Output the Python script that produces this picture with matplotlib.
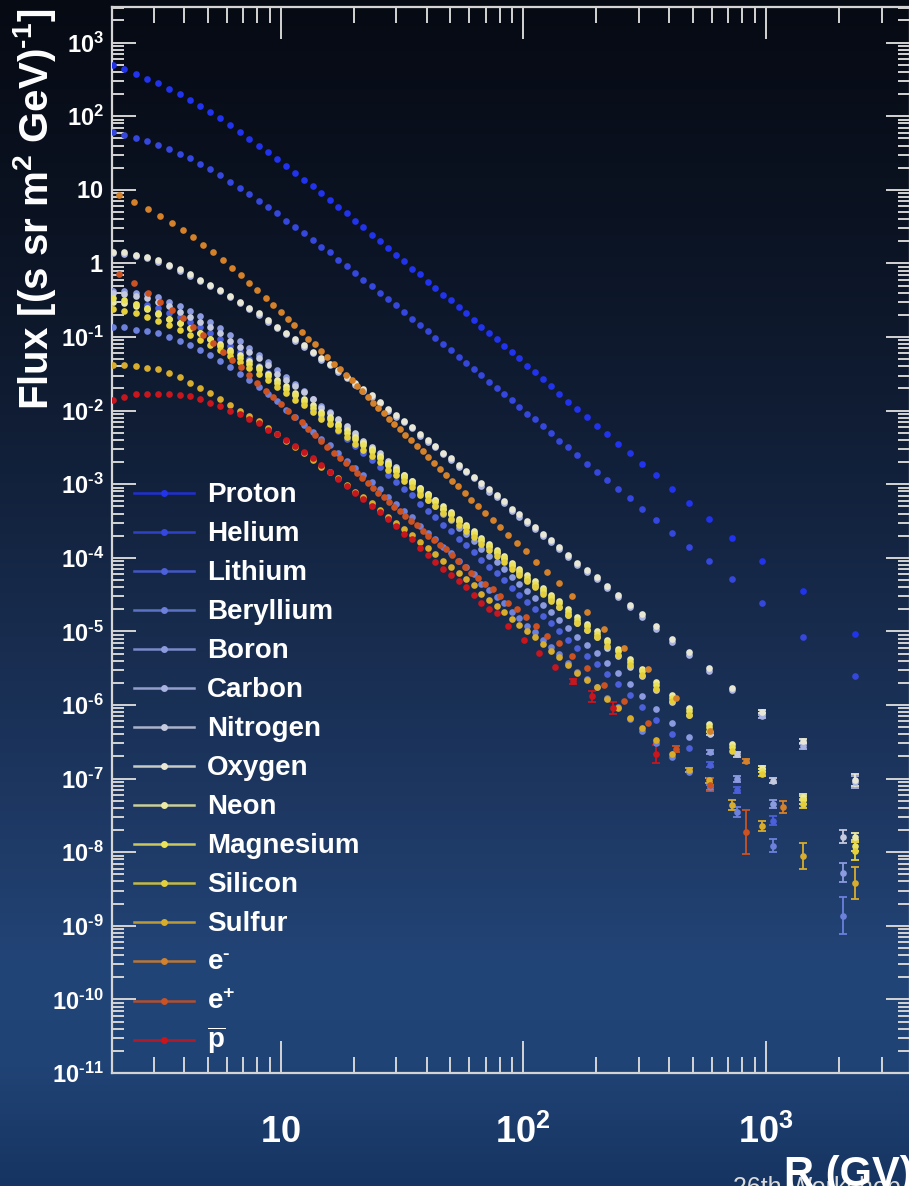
import numpy as np
import matplotlib
matplotlib.use("Agg")
import matplotlib.pyplot as plt
from matplotlib.lines import Line2D
from matplotlib.ticker import FixedLocator, FixedFormatter, LogLocator, NullFormatter

plt.rcParams['font.family'] = ['Liberation Sans', 'DejaVu Sans']
plt.rcParams['mathtext.fontset'] = 'custom'
plt.rcParams['mathtext.rm'] = 'Liberation Sans:bold'
plt.rcParams['mathtext.it'] = 'Liberation Sans:bold:italic'
plt.rcParams['mathtext.bf'] = 'Liberation Sans:bold'

# ---------------------------------------------------------------- data
# rigidity bin centres (GV)
rig_nuclei = [2.03, 2.27, 2.53, 2.82, 3.13, 3.46, 3.83, 4.22, 4.65, 5.12,
              5.63, 6.18, 6.77, 7.42, 8.11, 8.86, 9.67, 10.54, 11.49, 12.49,
              13.54, 14.69, 15.94, 17.29, 18.73, 20.28, 21.93, 23.73, 25.68, 27.73,
              29.93, 32.28, 34.78, 37.47, 40.37, 43.47, 46.77, 50.32, 54.12, 58.16,
              62.51, 67.20, 72.25, 77.65, 83.44, 89.69, 96.44, 103.9, 111.9, 120.4,
              129.9, 140.9, 153.4, 167.3, 183.3, 201.3, 221.7, 245.7, 274.5, 309.9,
              353.7, 408.8, 481.2, 581.0, 727.0, 963.8, 1426, 2324]
rig_light_top = [589, 762, 1069, 2071]
rig_lepton = [2.16, 2.49, 2.84, 3.19, 3.57, 3.95, 4.34, 4.79, 5.25, 5.76,
              6.30, 6.85, 7.42, 8.02, 8.67, 9.33, 10.0, 10.7, 11.4, 12.2,
              13.0, 13.9, 14.7, 15.6, 16.6, 17.5, 18.6, 19.6, 20.6, 21.7,
              22.9, 24.0, 25.3, 26.6, 28.0, 29.4, 31.1, 32.7, 34.5, 36.4,
              38.5, 40.6, 42.9, 45.4, 48.1, 50.9, 54.0, 57.4, 61.1, 65.1,
              69.8, 74.9, 80.2, 86.6, 94.0, 102.7, 112.6, 125.0, 140.1, 158.9,
              182.7, 215.9, 261.1, 326.1, 427.8, 587.3, 828.6, 1174]
rig_pbar_top = [86.5, 100.5, 116.2, 135.6, 160.4, 192.2, 233.8, 352.0]

# log10 of flux [(s sr m^2 GeV)^-1]
proton = [2.69, 2.64, 2.58, 2.51, 2.45, 2.37, 2.30, 2.22, 2.14, 2.06,
          1.97, 1.88, 1.78, 1.69, 1.60, 1.51, 1.42, 1.32, 1.23, 1.14,
          1.05, 0.96, 0.86, 0.77, 0.68, 0.58, 0.49, 0.39, 0.30, 0.21,
          0.12, 0.03, -0.07, -0.15, -0.25, -0.34, -0.43, -0.50, -0.59, -0.68,
          -0.77, -0.86, -0.94, -1.03, -1.12, -1.21, -1.29, -1.39, -1.48, -1.57,
          -1.67, -1.77, -1.88, -1.98, -2.09, -2.21, -2.32, -2.45, -2.58, -2.72,
          -2.88, -3.06, -3.25, -3.47, -3.73, -4.04, -4.45, -5.03]
helium = [1.78, 1.75, 1.71, 1.66, 1.61, 1.56, 1.49, 1.43, 1.35, 1.28,
          1.20, 1.11, 1.03, 0.94, 0.85, 0.77, 0.68, 0.58, 0.50, 0.41,
          0.32, 0.23, 0.15, 0.05, -0.04, -0.13, -0.22, -0.31, -0.40, -0.48,
          -0.57, -0.66, -0.75, -0.84, -0.92, -1.01, -1.10, -1.18, -1.27, -1.35,
          -1.44, -1.52, -1.61, -1.69, -1.78, -1.86, -1.95, -2.04, -2.12, -2.21,
          -2.30, -2.41, -2.50, -2.60, -2.72, -2.83, -2.94, -3.06, -3.19, -3.33,
          -3.48, -3.66, -3.85, -4.04, -4.29, -4.62, -5.07, -5.60]
lithium = [-0.53, -0.53, -0.55, -0.57, -0.61, -0.67, -0.73, -0.80, -0.87, -0.95,
           -1.03, -1.12, -1.21, -1.30, -1.39, -1.49, -1.60, -1.69, -1.79, -1.89,
           -1.99, -2.09, -2.17, -2.28, -2.38, -2.48, -2.57, -2.67, -2.77, -2.88,
           -2.97, -3.06, -3.15, -3.27, -3.36, -3.45, -3.55, -3.64, -3.74, -3.83,
           -3.92, -4.03, -4.12, -4.21, -4.30, -4.41, -4.50, -4.60, -4.69, -4.79,
           -4.89, -4.99, -5.11, -5.23, -5.33, -5.44, -5.58, -5.71, -5.87, -6.03,
           -6.20, -6.39, -6.59, -6.81, -7.15, -7.57]
beryllium = [-0.87, -0.87, -0.90, -0.92, -0.95, -1.00, -1.05, -1.11, -1.18, -1.25,
             -1.33, -1.41, -1.50, -1.58, -1.68, -1.77, -1.87, -1.99, -2.09, -2.19,
             -2.29, -2.39, -2.47, -2.58, -2.68, -2.78, -2.87, -2.97, -3.07, -3.18,
             -3.27, -3.36, -3.45, -3.57, -3.66, -3.75, -3.85, -3.94, -4.04, -4.13,
             -4.22, -4.35, -4.44, -4.53, -4.62, -4.73, -4.82, -4.92, -5.01, -5.11,
             -5.21, -5.31, -5.43, -5.55, -5.65, -5.76, -5.90, -6.03, -6.19, -6.35,
             -6.52, -6.71, -6.91, -7.12, -7.45, -7.91, -8.86]
boron = [-0.38, -0.38, -0.40, -0.42, -0.46, -0.52, -0.58, -0.65, -0.72, -0.80,
         -0.88, -0.97, -1.06, -1.15, -1.24, -1.34, -1.45, -1.54, -1.64, -1.74,
         -1.84, -1.94, -2.02, -2.13, -2.23, -2.33, -2.42, -2.52, -2.62, -2.73,
         -2.82, -2.91, -3.00, -3.12, -3.21, -3.30, -3.40, -3.49, -3.59, -3.68,
         -3.77, -3.88, -3.97, -4.06, -4.15, -4.26, -4.35, -4.45, -4.54, -4.64,
         -4.74, -4.84, -4.96, -5.08, -5.18, -5.29, -5.43, -5.56, -5.72, -5.88,
         -6.05, -6.24, -6.44, -6.64, -7.00, -7.35, -8.28]
carbon = [0.14, 0.13, 0.10, 0.07, 0.02, -0.04, -0.10, -0.17, -0.24, -0.31,
          -0.38, -0.46, -0.54, -0.62, -0.70, -0.79, -0.88, -0.96, -1.05, -1.13,
          -1.22, -1.31, -1.38, -1.47, -1.56, -1.65, -1.73, -1.81, -1.90, -2.00,
          -2.08, -2.16, -2.24, -2.34, -2.42, -2.50, -2.59, -2.67, -2.76, -2.84,
          -2.92, -3.02, -3.10, -3.18, -3.26, -3.36, -3.44, -3.53, -3.61, -3.70,
          -3.79, -3.88, -3.99, -4.10, -4.19, -4.29, -4.41, -4.53, -4.67, -4.81,
          -4.97, -5.14, -5.32, -5.54, -5.80, -6.15, -6.56, -7.05]
nitrogen = [-0.40, -0.41, -0.44, -0.47, -0.52, -0.58, -0.66, -0.73, -0.80, -0.87,
            -0.94, -1.05, -1.13, -1.21, -1.29, -1.38, -1.50, -1.58, -1.67, -1.75,
            -1.84, -1.96, -2.03, -2.12, -2.21, -2.30, -2.41, -2.49, -2.58, -2.68,
            -2.76, -2.87, -2.95, -3.05, -3.13, -3.21, -3.33, -3.41, -3.50, -3.58,
            -3.66, -3.77, -3.85, -3.93, -4.01, -4.11, -4.21, -4.30, -4.38, -4.47,
            -4.56, -4.67, -4.78, -4.89, -4.98, -5.08, -5.22, -5.34, -5.48, -5.61,
            -5.79, -5.96, -6.14, -6.39, -6.67, -7.03, -7.79]
oxygen = [0.16, 0.15, 0.12, 0.09, 0.04, -0.02, -0.08, -0.15, -0.22, -0.29,
          -0.36, -0.44, -0.52, -0.60, -0.68, -0.77, -0.86, -0.94, -1.03, -1.11,
          -1.20, -1.29, -1.36, -1.45, -1.54, -1.63, -1.71, -1.79, -1.88, -1.98,
          -2.06, -2.14, -2.22, -2.32, -2.40, -2.48, -2.57, -2.65, -2.74, -2.82,
          -2.90, -2.99, -3.07, -3.15, -3.23, -3.33, -3.41, -3.50, -3.58, -3.67,
          -3.76, -3.85, -3.96, -4.07, -4.16, -4.26, -4.38, -4.50, -4.64, -4.77,
          -4.93, -5.10, -5.28, -5.50, -5.77, -6.09, -6.49, -7.02]
neon = [-0.52, -0.54, -0.58, -0.62, -0.69, -0.75, -0.81, -0.88, -0.95, -1.02,
        -1.09, -1.17, -1.25, -1.33, -1.41, -1.50, -1.59, -1.67, -1.76, -1.84,
        -1.93, -2.02, -2.09, -2.18, -2.27, -2.36, -2.44, -2.52, -2.61, -2.71,
        -2.79, -2.87, -2.95, -3.05, -3.13, -3.21, -3.30, -3.38, -3.47, -3.55,
        -3.64, -3.73, -3.81, -3.89, -3.97, -4.07, -4.15, -4.24, -4.32, -4.41,
        -4.50, -4.59, -4.70, -4.81, -4.90, -5.00, -5.12, -5.24, -5.38, -5.51,
        -5.69, -5.86, -6.04, -6.26, -6.53, -6.85, -7.25, -7.80]
magnesium = [-0.47, -0.50, -0.55, -0.60, -0.67, -0.75, -0.81, -0.88, -0.95, -1.02,
             -1.12, -1.20, -1.28, -1.36, -1.44, -1.53, -1.62, -1.70, -1.79, -1.87,
             -1.96, -2.05, -2.12, -2.21, -2.30, -2.39, -2.47, -2.55, -2.64, -2.74,
             -2.82, -2.90, -2.98, -3.08, -3.16, -3.24, -3.33, -3.41, -3.50, -3.58,
             -3.67, -3.76, -3.84, -3.92, -4.00, -4.10, -4.18, -4.27, -4.35, -4.44,
             -4.53, -4.62, -4.73, -4.84, -4.93, -5.03, -5.15, -5.27, -5.41, -5.54,
             -5.73, -5.90, -6.08, -6.30, -6.57, -6.89, -7.29, -7.91]
silicon = [-0.62, -0.64, -0.68, -0.73, -0.78, -0.84, -0.90, -0.97, -1.04, -1.11,
           -1.18, -1.26, -1.34, -1.42, -1.50, -1.59, -1.68, -1.76, -1.85, -1.93,
           -2.02, -2.11, -2.18, -2.27, -2.36, -2.45, -2.53, -2.61, -2.70, -2.80,
           -2.88, -2.96, -3.04, -3.14, -3.22, -3.30, -3.39, -3.47, -3.56, -3.64,
           -3.72, -3.81, -3.89, -3.97, -4.05, -4.15, -4.23, -4.32, -4.40, -4.49,
           -4.58, -4.67, -4.78, -4.89, -4.98, -5.08, -5.20, -5.32, -5.46, -5.59,
           -5.78, -5.95, -6.13, -6.35, -6.62, -6.94, -7.34, -7.98]
sulfur = [-1.38, -1.38, -1.40, -1.42, -1.44, -1.49, -1.54, -1.63, -1.69, -1.76,
          -1.84, -1.92, -2.00, -2.07, -2.14, -2.24, -2.32, -2.41, -2.50, -2.58,
          -2.67, -2.76, -2.83, -2.92, -3.01, -3.10, -3.18, -3.26, -3.35, -3.45,
          -3.53, -3.61, -3.69, -3.79, -3.87, -3.95, -4.04, -4.12, -4.21, -4.29,
          -4.37, -4.49, -4.57, -4.65, -4.73, -4.83, -4.91, -5.00, -5.08, -5.17,
          -5.26, -5.35, -5.46, -5.57, -5.66, -5.76, -5.92, -6.04, -6.18, -6.31,
          -6.47, -6.67, -6.88, -7.02, -7.36, -7.64, -8.05, -8.42]
electron = [0.93, 0.84, 0.74, 0.64, 0.55, 0.46, 0.36, 0.25, 0.15, 0.04,
            -0.06, -0.16, -0.26, -0.36, -0.47, -0.56, -0.66, -0.75, -0.84, -0.93,
            -1.02, -1.10, -1.19, -1.27, -1.36, -1.44, -1.52, -1.59, -1.67, -1.74,
            -1.82, -1.89, -1.96, -2.03, -2.11, -2.18, -2.25, -2.33, -2.40, -2.48,
            -2.55, -2.63, -2.71, -2.79, -2.87, -2.95, -3.03, -3.12, -3.21, -3.29,
            -3.39, -3.48, -3.58, -3.69, -3.80, -3.91, -4.05, -4.19, -4.34, -4.52,
            -4.73, -4.97, -5.22, -5.51, -5.90, -6.35, -6.76, -7.39]
positron = [-0.15, -0.27, -0.40, -0.52, -0.63, -0.74, -0.86, -0.97, -1.08, -1.20,
            -1.31, -1.41, -1.52, -1.62, -1.73, -1.81, -1.91, -2.00, -2.08, -2.16,
            -2.25, -2.33, -2.41, -2.50, -2.57, -2.64, -2.71, -2.78, -2.85, -2.92,
            -2.99, -3.05, -3.12, -3.18, -3.24, -3.31, -3.37, -3.43, -3.50, -3.56,
            -3.63, -3.70, -3.76, -3.82, -3.88, -3.96, -4.04, -4.12, -4.20, -4.27,
            -4.35, -4.43, -4.52, -4.61, -4.70, -4.81, -4.93, -5.06, -5.16, -5.34,
            -5.50, -5.73, -5.94, -6.25, -6.60, -7.08, -7.72]
antiproton = [-1.85, -1.82, -1.78, -1.78, -1.77, -1.77, -1.79, -1.80, -1.84, -1.90,
              -1.94, -2.00, -2.05, -2.11, -2.17, -2.26, -2.32, -2.40, -2.48, -2.56,
              -2.65, -2.74, -2.84, -2.93, -3.02, -3.12, -3.20, -3.30, -3.38, -3.47,
              -3.57, -3.68, -3.75, -3.86, -3.96, -4.06, -4.15, -4.23, -4.32, -4.40,
              -4.51, -4.62, -4.69, -4.75, -4.92, -5.11, -5.30, -5.48, -5.68, -5.88,
              -6.04, -6.67]

# half-width (log10) of the error bars on the last points of each series
tail_errors = {
    'Lithium': [0.03, 0.04, 0.06],
    'Beryllium': [0.04, 0.065, 0.09, 0.25],
    'Boron': [0.03, 0.04, 0.055, 0.13],
    'Carbon': [0.02, 0.035, 0.08],
    'Nitrogen': [0.02, 0.03, 0.035, 0.085],
    'Oxygen': [0.02, 0.03, 0.08],
    'Neon': [0.02, 0.04, 0.06],
    'Magnesium': [0.025, 0.05, 0.08],
    'Silicon': [0.03, 0.06, 0.12],
    'Sulfur': [0.025, 0.035, 0.065, 0.07, 0.18, 0.22],
    'e-': [0.03, 0.08],
    'e+': [0.04, 0.095, 0.30],
    'pbar': [0.04, 0.075, 0.08, 0.12],
}

names = ['Proton', 'Helium', 'Lithium', 'Beryllium', 'Boron', 'Carbon',
         'Nitrogen', 'Oxygen', 'Neon', 'Magnesium', 'Silicon', 'Sulfur',
         'e-', 'e+', 'pbar']
labels = ['Proton', 'Helium', 'Lithium', 'Beryllium', 'Boron', 'Carbon',
          'Nitrogen', 'Oxygen', 'Neon', 'Magnesium', 'Silicon', 'Sulfur',
          r'e$^{\text{-}}$', r'e$^{+}$', r'$\overline{\mathrm{p}}$']
colors = ['#2233ee', '#3547dc', '#4b60da', '#6c80dc', '#8c9be0', '#a9b3e2',
          '#c6cadf', '#e8e7d6', '#ece9a2', '#ebe25c', '#e4cf3a', '#d8ac2c',
          '#d4812a', '#cc5222', '#c8161e']

rig_light = rig_nuclei[:63] + rig_light_top
rig_pbar = rig_nuclei[:44] + rig_pbar_top
series = {
    'Proton': (rig_nuclei, proton), 'Helium': (rig_nuclei, helium),
    'Lithium': (rig_light, lithium), 'Beryllium': (rig_light, beryllium),
    'Boron': (rig_light, boron), 'Carbon': (rig_nuclei, carbon),
    'Nitrogen': (rig_light, nitrogen), 'Oxygen': (rig_nuclei, oxygen),
    'Neon': (rig_nuclei, neon), 'Magnesium': (rig_nuclei, magnesium),
    'Silicon': (rig_nuclei, silicon), 'Sulfur': (rig_nuclei, sulfur),
    'e-': (rig_lepton, electron), 'e+': (rig_lepton, positron),
    'pbar': (rig_pbar, antiproton),
}

# ---------------------------------------------------------------- figure
W, H = 909, 1186
fig = plt.figure(figsize=(W / 100, H / 100), dpi=100)

# vertical background gradient
bg = fig.add_axes([0, 0, 1, 1], zorder=-10)
stop_pos = [0.0, 0.15, 0.35, 0.55, 0.72, 0.82, 0.90, 1.0]
stop_rgb = [(6, 10, 19), (10, 17, 31), (16, 29, 52), (24, 45, 80),
            (31, 59, 104), (34, 69, 120), (32, 67, 117), (22, 52, 97)]
t = np.linspace(0, 1, H)
grad = np.zeros((H, 2, 3))
for k in range(3):
    grad[:, :, k] = np.interp(t, stop_pos, [c[k] / 255 for c in stop_rgb])[:, None]
bg.imshow(grad, aspect='auto', extent=[0, 1, 0, 1], origin='upper')
bg.set_axis_off()

ax = fig.add_axes([112 / W, 1 - 1073 / H, (910 - 112) / W, 1066 / H])
ax.set_xscale('log')
ax.set_yscale('log')
ax.set_xlim(2.018, 3930)
ax.set_ylim(1e-11, 3.05e3)
ax.patch.set_alpha(0)

for name, color in zip(names, colors):
    rig, logf = series[name]
    x = np.array(rig[:len(logf)], dtype=float)
    y = 10.0 ** np.array(logf)
    ax.plot(x, y, 'o', ms=4.8, color=color, mec=color, mew=0.0, zorder=3)
    if name in tail_errors:
        e = np.array(tail_errors[name])
        n = len(e)
        xs, ys = x[-n:], y[-n:]
        lo = ys - ys * 10 ** (-e)
        hi = ys * 10 ** e - ys
        ax.errorbar(xs, ys, yerr=[lo, hi], fmt='none', ecolor=color,
                    elinewidth=1.3, capsize=3.2, capthick=1.3, zorder=2)

# axes frame and ticks
tick_col = '#d4d4d4'
for s in ax.spines.values():
    s.set_color(tick_col)
    s.set_linewidth(1.6)

ax.xaxis.set_major_locator(FixedLocator([10, 100, 1000]))
ax.xaxis.set_major_formatter(FixedFormatter([r'$10$', r'$10^{2}$', r'$10^{3}$']))
ax.xaxis.set_minor_locator(LogLocator(base=10, subs=np.arange(2, 10), numticks=50))
ax.xaxis.set_minor_formatter(NullFormatter())

ydec = list(range(-11, 4))
ylab = []
for d in ydec:
    if d == 0:
        ylab.append(r'$1$')
    elif d == 1:
        ylab.append(r'$10$')
    elif d < 0:
        ylab.append(r'$10^{\text{-}%d}$' % (-d))
    else:
        ylab.append(r'$10^{%d}$' % d)
ax.yaxis.set_major_locator(FixedLocator([10.0 ** d for d in ydec]))
ax.yaxis.set_major_formatter(FixedFormatter(ylab))
ax.yaxis.set_minor_locator(LogLocator(base=10, subs=np.arange(2, 10), numticks=50))
ax.yaxis.set_minor_formatter(NullFormatter())

ax.tick_params(which='both', direction='in', top=True, right=True,
               color=tick_col, width=1.4)
ax.tick_params(axis='x', which='major', length=23, pad=30, labelsize=26,
               labelcolor='white')
ax.tick_params(axis='x', which='minor', length=11.5)
ax.tick_params(axis='y', which='major', length=17, pad=6, labelsize=17,
               labelcolor='white')
ax.tick_params(axis='y', which='minor', length=8.5)

# axis titles
fig.text(35 / W, 1 - 410 / H, r'Flux [(s sr m$^{2}$ GeV)$^{\text{-}1}$]', rotation=90,
         ha='center', va='bottom', fontsize=29, fontweight='bold', color='white')
fig.text(733 / W, -9 / H, '26th Workshop', ha='left', va='baseline',
         fontsize=18, color='#dcdcdc')
fig.text(784 / W, 0.0, 'R (GV)', ha='left', va='baseline', fontsize=30,
         fontweight='bold', color='white')

# legend
for i, (lab, color) in enumerate(zip(labels, colors)):
    yp = 493 + i * 39.04
    yf = 1 - yp / H
    fig.add_artist(Line2D([134 / W, 194 / W], [yf, yf], color=color, lw=1.8,
                          alpha=0.85, transform=fig.transFigure))
    fig.add_artist(Line2D([164 / W], [yf], marker='o', ms=5, color=color,
                          mew=0, transform=fig.transFigure))
    fig.text(207 / W, 1 - (yp + 8.5) / H, lab, ha='left', va='baseline',
             fontsize=20, fontweight='bold', color='white')

fig.savefig('out.png', dpi=100)
